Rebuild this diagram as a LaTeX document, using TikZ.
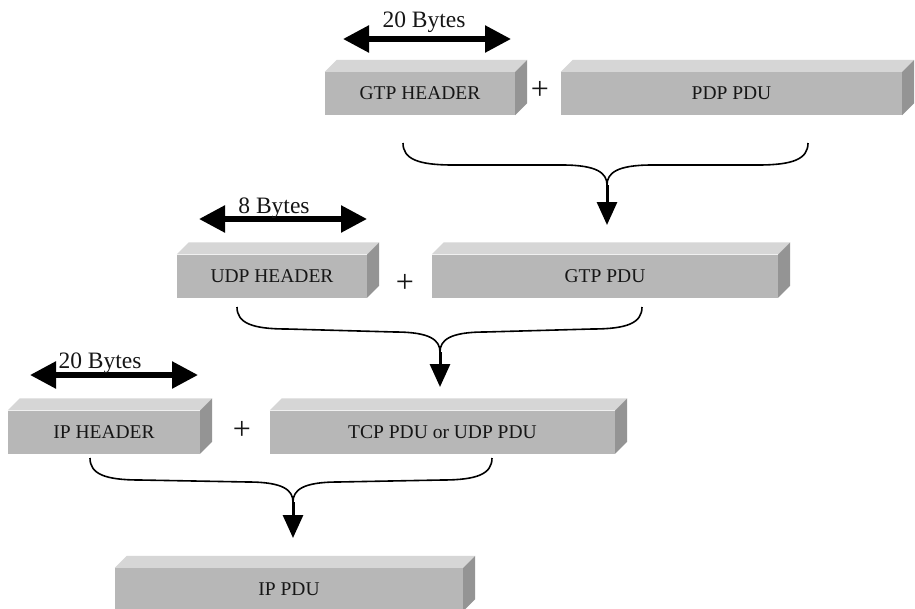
\documentclass[tikz,border=0pt]{standalone}
\usepackage{fontspec}
\setmainfont{Liberation Serif}
\usetikzlibrary{arrows.meta}

\definecolor{facefront}{RGB}{183,183,183}
\definecolor{facetop}{RGB}{214,214,214}
\definecolor{faceside}{RGB}{148,148,148}
\definecolor{inkdark}{RGB}{22,22,22}

\tikzset{
  slab/.style={fill=facefront, inner sep=0pt, minimum height=43pt,
    text=inkdark, font=\fontsize{19.5}{22}\selectfont},
  slabtop/.style={fill=facetop},
  slabside/.style={fill=faceside},
  sizearrow/.style={draw=black, line width=5.5pt,
    {Triangle[length=26pt,width=26pt]}-{Triangle[length=26pt,width=26pt]}},
  sizelabel/.style={font=\fontsize{23.5}{26}\selectfont, anchor=base,
    inner sep=0pt, text=inkdark},
  joinbrace/.style={draw=black, line width=1.6pt},
  mergearrow/.style={draw=black, line width=3pt,
    -{Triangle[length=23pt,width=20pt]}},
  plussign/.style={font=\fontsize{32}{34}\selectfont, inner sep=0pt, text=inkdark}
}

% top and right faces of a slab drawn behind its front face
\newcommand\slabfaces[1]{%
  \fill[slabtop] (#1.north west) -- ++(12,-12)
    -- ([shift={(12,-12)}]#1.north east) -- (#1.north east) -- cycle;
  \fill[slabside] (#1.north east) -- ++(12,-12)
    -- ([shift={(12,-12)}]#1.south east) -- (#1.south east) -- cycle;}

% curly join from two slabs into one point
\newcommand\joinpair[3]{%
  \draw[joinbrace] (#1) .. controls +(0,16) and +(-35,0) .. ([shift={(50,22)}]#1)
    -- ([shift={(-45,-20)}]#3) .. controls +(35,0) and +(0,-12) .. (#3);
  \draw[joinbrace] (#2) .. controls +(0,16) and +(35,0) .. ([shift={(-50,22)}]#2)
    -- ([shift={(45,-20)}]#3) .. controls +(-35,0) and +(0,-12) .. (#3);}

\begin{document}
\begin{tikzpicture}[x=1pt, y=-1pt]
  \useasboundingbox (0,0) rectangle (915,608);
  \clip (0,0) rectangle (915,608);
  \fill[white] (0,0) rectangle (915,608);

  % slabs (front faces)
  \node[slab, minimum width=190pt] (gtph)  at (420,93.5)   {GTP HEADER};
  \node[slab, minimum width=341pt] (pdp)   at (731.5,93.5) {PDP PDU};
  \node[slab, minimum width=190pt] (udph)  at (272,276)    {UDP HEADER};
  \node[slab, minimum width=346pt] (gtpp)  at (605,276)    {GTP PDU};
  \node[slab, minimum width=192pt] (iph)   at (104,432)    {IP HEADER};
  \node[slab, minimum width=345pt] (tcpp)  at (442.5,432)  {TCP PDU or UDP PDU};
  \node[slab, minimum width=348pt] (ippdu) at (289,589.5)  {IP PDU};

  \foreach \s in {gtph,pdp,udph,gtpp,iph,tcpp,ippdu} {\slabfaces{\s}}

  % plus signs
  \node[plussign] (p1) at (540,90)  {+};
  \node[plussign] (p2) at (405,283) {+};
  \node[plussign] (p3) at (242,430) {+};

  % header sizes
  \coordinate (s1l) at (343,39);  \coordinate (s1r) at (511,39);
  \coordinate (s2l) at (199,219); \coordinate (s2r) at (367,219);
  \coordinate (s3l) at (30,375);  \coordinate (s3r) at (198,375);
  \draw[sizearrow] (s1l) -- (s1r);
  \draw[sizearrow] (s2l) -- (s2r);
  \draw[sizearrow] (s3l) -- (s3r);
  \node[sizelabel] (b1) at (424,27)  {20 Bytes};
  \node[sizelabel] (b2) at (274,213) {8 Bytes};
  \node[sizelabel] (b3) at (100,368) {20 Bytes};

  % encapsulation joins
  \coordinate (l1) at (403,143); \coordinate (r1) at (808,143);
  \coordinate (c1) at (607,185); \coordinate (t1) at (607,225);
  \coordinate (l2) at (237,307); \coordinate (r2) at (642,307);
  \coordinate (c2) at (440,352); \coordinate (t2) at (440,387);
  \coordinate (l3) at (90,458);  \coordinate (r3) at (492,458);
  \coordinate (c3) at (293,502); \coordinate (t3) at (293,538);

  \joinpair{l1}{r1}{c1}
  \joinpair{l2}{r2}{c2}
  \joinpair{l3}{r3}{c3}
  \draw[mergearrow] (c1) -- (t1);
  \draw[mergearrow] (c2) -- (t2);
  \draw[mergearrow] (c3) -- (t3);
\end{tikzpicture}
\end{document}
